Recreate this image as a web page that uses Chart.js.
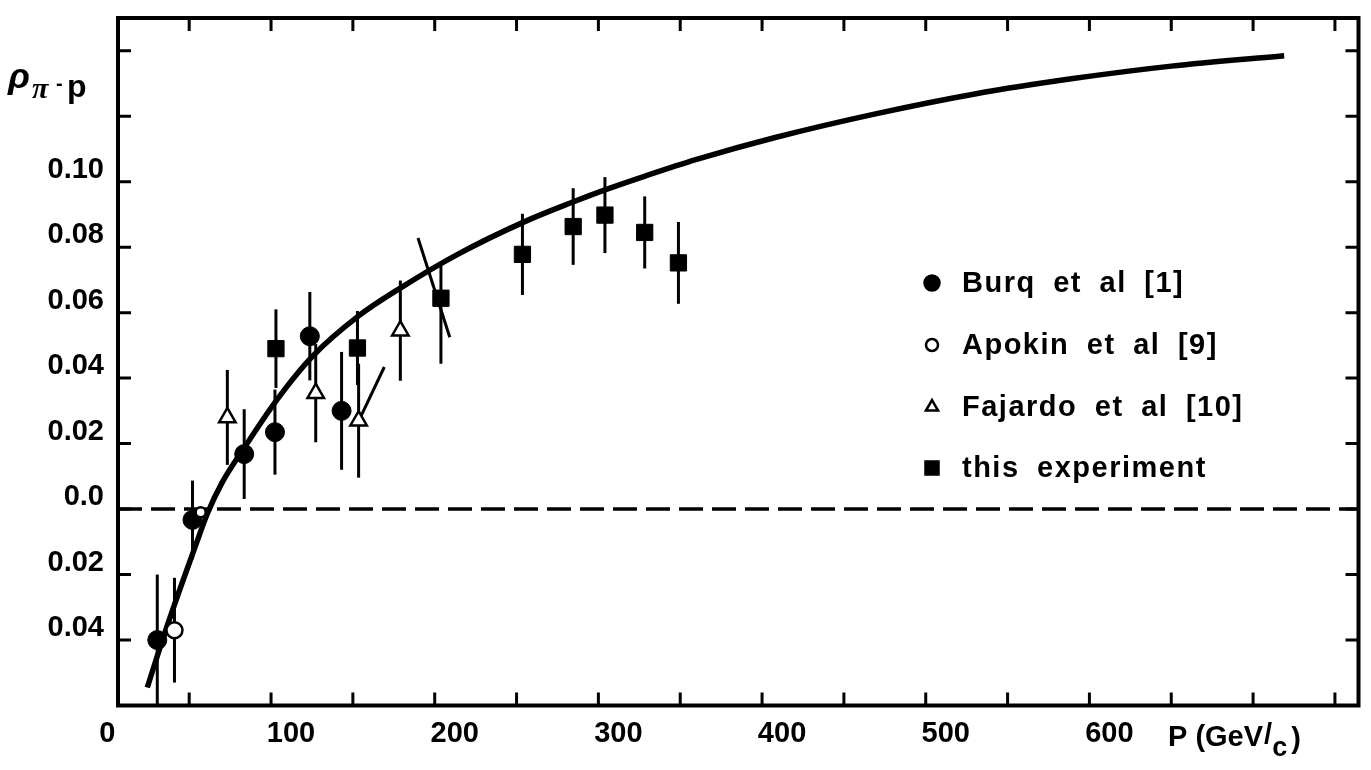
<!DOCTYPE html>
<html>
<head>
<meta charset="utf-8">
<title>rho pi- p</title>
<script src="https://cdn.jsdelivr.net/npm/chart.js@4.4.1/dist/chart.umd.min.js"></script>
<style>
  html, body { margin: 0; padding: 0; background: #fff; }
  #wrap { width: 1371px; height: 770px; }
</style>
</head>
<body>
<div id="wrap"><canvas id="chart" width="1371" height="770"></canvas></div>
<script>
// axis ranges (GeV/c and rho)
const X_MIN = 6.5, X_MAX = 764.4;
const Y_MIN = -0.06, Y_MAX = 0.15;

// tick marks and labels
const xTickMarks = [50, 100, 150, 200, 250, 300, 350, 400, 450, 500, 550, 600, 650, 700, 750];
const xTickValues = [0, 100, 200, 300, 400, 500, 600];
const xTickLabels = ['0', '100', '200', '300', '400', '500', '600'];
const yTickMarks = [-0.04, -0.02, 0, 0.02, 0.04, 0.06, 0.08, 0.10, 0.12, 0.14];
const yTickValues = [0.10, 0.08, 0.06, 0.04, 0.02, 0, -0.02, -0.04];
const yTickLabels = ['0.10', '0.08', '0.06', '0.04', '0.02', '0.0', '0.02', '0.04'];

// Burq et al [1]
const burqP   = [30.5, 52, 83.6, 102.4, 123.7, 143.1];
const burqRho = [-0.040, -0.0033, 0.0168, 0.0235, 0.0528, 0.030];
const burqErr = [0.020, 0.012, 0.0137, 0.013, 0.0135, 0.018];

// Apokin et al [9]
const apokinP   = [41, 57];
const apokinRho = [-0.037, -0.001];
const apokinErr = [0.016, 0];

// Fajardo et al [10]
const fajardoP   = [73.3, 127.3, 153.5, 179];
const fajardoRho = [0.028, 0.0354, 0.027, 0.0545];
const fajardoErr = [0.0145, 0.015, 0.0174, 0.0153];

// this experiment
const expP     = [103, 152.8, 203.8, 253.6, 284.6, 304, 328.3, 348.9];
const expRho   = [0.049, 0.0492, 0.0644, 0.0778, 0.0863, 0.0898, 0.0845, 0.0752];
const expErrLo = [0.012, 0.0113, 0.020, 0.0124, 0.0117, 0.0116, 0.011, 0.0125];
const expErrHi = [0.012, 0.0113, 0.0104, 0.0124, 0.0117, 0.0116, 0.011, 0.0125];

// dispersion relation curve
const curveP   = [24.4, 34, 44.3, 54, 61, 70, 84, 103, 125, 153.5, 178, 214, 255,
                  284, 304, 329, 360, 408, 470, 530, 590, 650, 719];
const curveRho = [-0.0545, -0.0395, -0.0245, -0.0110, -0.0015, 0.0080, 0.0190, 0.0330, 0.0465, 0.0590, 0.0672, 0.0778, 0.0878,
                  0.0937, 0.0975, 0.1018, 0.1068, 0.1135, 0.1208, 0.1268, 0.1315, 0.1353, 0.1385];

// the two short slanted strokes
const strokeAP = [189.8, 209.2], strokeARho = [0.0828, 0.0525];
const strokeBP = [169.2, 154.6], strokeBRho = [0.0434, 0.028];

// zero line
const zeroP = [X_MIN, X_MAX], zeroRho = [0, 0];

const FONT = '"Liberation Sans", Arial, sans-serif';

function pts(xs, ys) {
  return xs.map((x, i) => ({ x: x, y: ys[i] }));
}

const legendItems = [
  { label: 'Burq et al [1]', style: 'circle', fill: true, r: 7.5 },
  { label: 'Apokin et al [9]', style: 'circle', fill: false, r: 6 },
  { label: 'Fajardo et al [10]', style: 'triangle', fill: false, r: 7 },
  { label: 'this experiment', style: 'rect', fill: true, r: 6.5 }
];

function marker(ctx, style, x, y, r, fill) {
  ctx.beginPath();
  if (style === 'circle') {
    ctx.arc(x, y, r, 0, Math.PI * 2);
  } else if (style === 'rect') {
    ctx.rect(x - r, y - r, 2 * r, 2 * r);
  } else {
    ctx.moveTo(x, y - r);
    ctx.lineTo(x + r * 0.866, y + r * 0.5);
    ctx.lineTo(x - r * 0.866, y + r * 0.5);
    ctx.closePath();
  }
  ctx.fillStyle = fill ? '#000' : '#fff';
  ctx.fill();
  ctx.lineWidth = 2.5;
  ctx.strokeStyle = '#000';
  ctx.stroke();
}

const paper = {
  id: 'paper',
  beforeDatasetsDraw(chart) {
    // error bars
    const ctx = chart.ctx, xs = chart.scales.x, ys = chart.scales.y;
    ctx.save();
    ctx.strokeStyle = '#000';
    ctx.lineWidth = 3;
    chart.data.datasets.forEach(ds => {
      if (!ds.errLo) return;
      ds.data.forEach((d, i) => {
        if (!ds.errLo[i] && !ds.errHi[i]) return;
        const px = xs.getPixelForValue(d.x);
        ctx.beginPath();
        ctx.moveTo(px, ys.getPixelForValue(d.y - ds.errLo[i]));
        ctx.lineTo(px, ys.getPixelForValue(d.y + ds.errHi[i]));
        ctx.stroke();
      });
    });
    ctx.restore();
  },
  afterDraw(chart) {
    const ctx = chart.ctx, a = chart.chartArea;
    const xs = chart.scales.x, ys = chart.scales.y;
    ctx.save();
    ctx.strokeStyle = '#000';
    ctx.fillStyle = '#000';

    // inward ticks
    ctx.lineWidth = 3;
    const tl = 13;
    ctx.beginPath();
    xTickMarks.forEach(v => {
      const px = xs.getPixelForValue(v);
      ctx.moveTo(px, a.bottom); ctx.lineTo(px, a.bottom - tl);
      ctx.moveTo(px, a.top); ctx.lineTo(px, a.top + tl);
    });
    yTickMarks.forEach(v => {
      const py = ys.getPixelForValue(v);
      ctx.moveTo(a.left, py); ctx.lineTo(a.left + tl, py);
      ctx.moveTo(a.right, py); ctx.lineTo(a.right - tl, py);
    });
    ctx.stroke();

    // frame
    ctx.lineWidth = 4;
    ctx.strokeRect(a.left, a.top, a.right - a.left, a.bottom - a.top);

    // tick labels
    ctx.font = 'bold 29px ' + FONT;
    ctx.textBaseline = 'middle';
    ctx.textAlign = 'center';
    xTickValues.forEach((v, i) => {
      const px = xs.getPixelForValue(v) + (v === 0 ? 0 : 20);
      ctx.fillText(xTickLabels[i], px, a.bottom + 28);
    });
    ctx.textAlign = 'right';
    yTickValues.forEach((v, i) => {
      ctx.fillText(yTickLabels[i], 104, ys.getPixelForValue(v) - 12);
    });

    // x title  P (GeV/c)
    ctx.textAlign = 'left';
    ctx.textBaseline = 'alphabetic';
    ctx.font = 'bold 29px ' + FONT;
    let tx = 1168;
    const base = a.bottom + 40;
    ctx.fillText('P (GeV', tx, base);
    tx += ctx.measureText('P (GeV').width + 1;
    ctx.fillText('/', tx, base - 2);
    tx += ctx.measureText('/').width;
    ctx.font = 'bold 27px ' + FONT;
    ctx.fillText('c', tx, base + 10);
    tx += ctx.measureText('c').width + 4;
    ctx.font = 'bold 29px ' + FONT;
    ctx.fillText(')', tx, base + 2);

    // y title  rho_{pi^- p}
    ctx.font = 'italic bold 36px ' + FONT;
    ctx.fillText('\u03C1', 8, 88);
    ctx.font = 'italic bold 30px "Liberation Serif", serif';
    ctx.fillText('\u03C0', 32, 98);
    ctx.font = 'bold 20px ' + FONT;
    ctx.fillText('-', 56, 90);
    ctx.font = 'bold 32px ' + FONT;
    ctx.fillText('p', 67, 97);

    // legend
    const rows = [283, 345, 407, 468];
    ctx.font = 'bold 29px ' + FONT;
    ctx.textBaseline = 'middle';
    if ('letterSpacing' in ctx) ctx.letterSpacing = '1.5px';
    if ('wordSpacing' in ctx) ctx.wordSpacing = '8px';
    legendItems.forEach((it, i) => {
      marker(ctx, it.style, 932, rows[i], it.r, it.fill);
      ctx.fillStyle = '#000';
      ctx.fillText(it.label, 962, rows[i] + 1);
    });
    ctx.restore();
  }
};

new Chart(document.getElementById('chart'), {
  type: 'scatter',
  data: {
    datasets: [
      {
        label: 'Apokin et al [9]',
        data: pts(apokinP, apokinRho),
        errLo: apokinErr, errHi: apokinErr,
        pointStyle: 'circle', pointRadius: [8, 5],
        backgroundColor: '#fff', borderColor: '#000', borderWidth: 2.5
      },
      {
        label: 'Fajardo et al [10]',
        data: pts(fajardoP, fajardoRho),
        errLo: fajardoErr, errHi: fajardoErr,
        pointStyle: 'triangle', pointRadius: 9.5,
        backgroundColor: '#fff', borderColor: '#000', borderWidth: 2.5
      },
      {
        label: 'Burq et al [1]',
        data: pts(burqP, burqRho),
        errLo: burqErr, errHi: burqErr,
        pointStyle: 'circle', pointRadius: 9.5,
        backgroundColor: '#000', borderColor: '#000', borderWidth: 1
      },
      {
        label: 'this experiment',
        data: pts(expP, expRho),
        errLo: expErrLo, errHi: expErrHi,
        pointStyle: 'rect', pointRadius: 11.5,
        backgroundColor: '#000', borderColor: '#000', borderWidth: 1
      },
      {
        label: 'curve',
        data: pts(curveP, curveRho),
        showLine: true, pointRadius: 0, borderColor: '#000', borderWidth: 5.5,
        cubicInterpolationMode: 'monotone', borderCapStyle: 'butt'
      },
      {
        label: 'strokeA',
        data: pts(strokeAP, strokeARho),
        showLine: true, pointRadius: 0, borderColor: '#000', borderWidth: 3
      },
      {
        label: 'strokeB',
        data: pts(strokeBP, strokeBRho),
        showLine: true, pointRadius: 0, borderColor: '#000', borderWidth: 3
      },
      {
        label: 'zero',
        data: pts(zeroP, zeroRho),
        showLine: true, pointRadius: 0, borderColor: '#000', borderWidth: 3.5,
        borderDash: [24, 9]
      }
    ]
  },
  options: {
    responsive: false,
    animation: false,
    devicePixelRatio: 1,
    layout: { padding: { left: 118, right: 4, top: 18, bottom: 64.5 } },
    plugins: { legend: { display: false }, tooltip: { enabled: false } },
    scales: {
      x: { type: 'linear', min: X_MIN, max: X_MAX, display: false },
      y: { type: 'linear', min: Y_MIN, max: Y_MAX, display: false }
    }
  },
  plugins: [paper]
});
</script>
</body>
</html>
